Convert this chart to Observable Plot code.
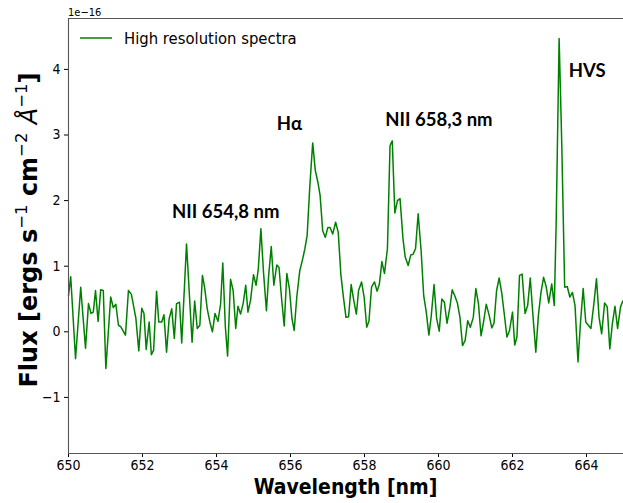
<!DOCTYPE html>
<html><head><meta charset="utf-8">
<script src="https://cdn.jsdelivr.net/npm/d3@7"></script>
<script src="https://cdn.jsdelivr.net/npm/@observablehq/plot@0.6"></script>
<style>body{margin:0;background:#fff;} #chart svg{display:block;}</style>
</head><body><div id="chart"></div>
<script>
const wavelength = [650.00,650.06,650.19,650.33,650.46,650.54,650.61,650.67,650.73,650.80,650.87,650.94,651.01,651.14,651.21,651.28,651.35,651.41,651.54,651.62,651.70,651.82,651.90,651.98,652.04,652.10,652.18,652.24,652.30,652.38,652.44,652.52,652.58,652.65,652.72,652.79,652.86,652.92,653.00,653.06,653.19,653.34,653.41,653.48,653.55,653.62,653.68,653.75,653.82,653.89,653.96,654.04,654.11,654.17,654.24,654.30,654.38,654.45,654.52,654.58,654.65,654.72,654.79,654.85,654.92,655.00,655.07,655.13,655.20,655.27,655.35,655.41,655.48,655.55,655.63,655.69,655.76,655.83,655.90,655.97,656.04,656.10,656.17,656.25,656.32,656.39,656.45,656.52,656.60,656.67,656.74,656.80,656.87,656.94,657.01,657.07,657.14,657.22,657.29,657.36,657.43,657.50,657.57,657.64,657.71,657.78,657.84,657.92,657.99,658.06,658.12,658.19,658.27,658.34,658.40,658.47,658.54,658.62,658.69,658.75,658.82,658.89,658.96,659.04,659.10,659.18,659.25,659.31,659.38,659.45,659.53,659.60,659.67,659.74,659.80,659.88,659.95,660.02,660.09,660.16,660.23,660.31,660.37,660.44,660.51,660.58,660.65,660.72,660.79,660.86,660.94,661.01,661.08,661.15,661.22,661.29,661.37,661.44,661.50,661.57,661.64,661.71,661.78,661.85,661.92,662.00,662.06,662.12,662.19,662.26,662.34,662.41,662.48,662.55,662.63,662.70,662.77,662.84,662.91,662.98,663.06,663.13,663.18,663.26,663.33,663.41,663.48,663.55,663.62,663.69,663.77,663.84,663.91,663.98,664.05,664.12,664.20,664.27,664.34,664.41,664.49,664.56,664.63,664.70,664.77,664.84,664.92,664.98];
const flux = [0.55,0.84,-0.41,0.68,-0.25,0.43,0.28,0.30,0.63,0.16,0.64,0.63,-0.56,0.53,0.37,0.42,0.10,0.08,-0.05,0.63,0.57,0.21,-0.29,0.36,0.28,-0.27,0.15,-0.35,-0.28,0.62,0.15,0.15,0.26,-0.31,0.20,0.35,-0.10,0.43,0.45,-0.17,1.34,-0.16,0.47,0.05,0.10,0.86,0.67,0.35,0.15,0.00,0.28,0.16,0.42,1.05,0.07,-0.37,0.80,0.63,0.05,0.39,0.27,0.43,0.71,0.30,0.48,0.87,0.71,0.96,1.57,0.91,0.32,0.86,1.30,0.71,1.02,0.98,0.50,0.09,0.89,0.66,0.20,0.02,0.53,0.93,1.09,1.27,1.47,2.20,2.88,2.46,2.28,2.08,1.54,1.44,1.59,1.59,1.49,1.67,1.52,0.88,0.53,0.22,0.23,0.72,0.48,0.27,0.63,0.76,0.53,0.07,0.16,0.68,0.76,0.62,0.72,1.07,0.89,1.27,2.84,2.91,1.81,2.00,2.03,1.42,1.14,1.01,1.17,1.18,1.27,1.80,1.24,0.55,0.30,-0.05,0.22,0.72,0.20,0.01,0.50,0.45,0.13,0.38,0.64,0.55,0.44,0.22,-0.21,-0.13,0.17,0.07,0.22,0.66,0.43,-0.06,0.16,0.42,0.25,0.06,0.13,0.63,0.82,0.59,0.26,-0.08,0.02,0.30,-0.20,-0.08,0.86,0.88,0.28,0.40,0.82,0.27,-0.31,0.25,0.60,0.83,0.69,0.44,0.73,0.40,1.65,4.47,2.90,0.68,0.69,0.53,0.60,0.40,-0.46,0.16,0.66,0.15,0.10,0.05,0.43,0.81,0.22,-0.03,0.44,0.38,-0.26,0.13,0.39,0.05,0.38,0.47];
const xTicks = [650,652,654,656,658,660,662,664];
const yTicks = [-1,0,1,2,3,4];
const lineLabels = ["NII 654,8 nm","Hα","NII 658,3 nm","HVS"];
const labelWavelength = [652.80,655.63,658.56,663.52];
const labelFlux = [1.83,3.16,3.23,3.97];
const seriesName = "High resolution spectra";

const spectrum = wavelength.map((w,i)=>({w, f: flux[i]}));
const labels = lineLabels.map((t,i)=>({t, w: labelWavelength[i], f: labelFlux[i]}));
const X0 = 650, X1 = 665, Y0 = -1.855, Y1 = 4.776;
const green = "#008000";

const chart = Plot.plot({
  width: 623, height: 503,
  marginLeft: 68, marginRight: 0, marginTop: 18, marginBottom: 50,
  style: {fontFamily: "DejaVu Sans Condensed", background: "#fff", color: "#000"},
  x: {domain: [X0, X1], label: null},
  y: {domain: [Y0, Y1], label: null},
  marks: [
    Plot.axisX({ticks: xTicks, tickFormat: d => String(d), tickSize: 4, tickPadding: 3, fontSize: 14, label: null}),
    Plot.axisY({ticks: yTicks, tickFormat: d => d < 0 ? "\u2212" + Math.abs(d) : String(d), tickSize: 4, tickPadding: 4, fontSize: 14, label: null}),
    Plot.line(spectrum, {x: "w", y: "f", stroke: green, strokeWidth: 1.5}),
    Plot.text(labels, {x: "w", y: "f", text: "t", textAnchor: "start", lineAnchor: "middle", fontFamily: "Lato", fontWeight: "bold", fontSize: 18.5, fill: "#000"}),
    Plot.ruleX([X0], {stroke: "#555", strokeWidth: 1.1}),
    Plot.ruleY([Y0, Y1], {stroke: "#555", strokeWidth: 1.1})
  ]
});

const svg = d3.select(chart);
// offset text
svg.append("text").attr("x", 68).attr("y", 16).attr("text-anchor", "start").attr("font-family", "DejaVu Sans Condensed").attr("font-size", 11).attr("fill", "#000").text("1e\u221216");
// legend
svg.append("line").attr("x1", 80).attr("x2", 112).attr("y1", 38).attr("y2", 38).attr("stroke", green).attr("stroke-width", 1.5);
svg.append("text").attr("x", 124).attr("y", 38).attr("dy", "0.36em").attr("text-anchor", "start").attr("font-family", "DejaVu Sans Condensed").attr("font-size", 16.5).attr("fill", "#000").text(seriesName);
// x label
svg.append("text").attr("x", 345.5).attr("y", 494).attr("text-anchor", "middle").attr("font-family", "DejaVu Sans Condensed").attr("font-weight", "bold").attr("font-size", 21).attr("fill", "#000").text("Wavelength [nm]");
// y label
const yl = svg.append("text").attr("transform", "translate(37,230) rotate(-90)").attr("text-anchor", "middle")
  .attr("font-family", "DejaVu Sans").attr("font-weight", "bold").attr("font-size", 24).attr("fill", "#000");
yl.append("tspan").text("Flux [ergs s");
yl.append("tspan").attr("font-size", 16.5).attr("dy", -10).attr("font-weight", "normal").text("\u22121");
yl.append("tspan").attr("dy", 10).text(" cm");
yl.append("tspan").attr("font-size", 16.5).attr("dy", -10).attr("font-weight", "normal").text("\u22122");
yl.append("tspan").attr("dy", 10).text(" ");
yl.append("tspan").attr("font-style", "italic").attr("font-weight", "normal").text("\u00C5");
yl.append("tspan").attr("font-size", 16.5).attr("dy", -10).attr("font-weight", "normal").text("\u22121");
yl.append("tspan").attr("dy", 10).text("]");

document.getElementById("chart").appendChild(chart);
</script>
</body></html>
